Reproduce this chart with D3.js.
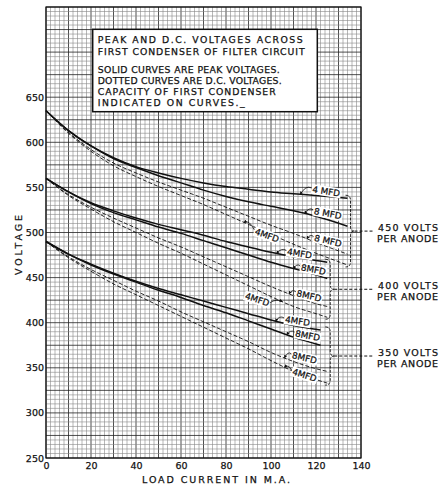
<!DOCTYPE html>
<html>
<head>
<meta charset="utf-8">
<script src="https://cdn.jsdelivr.net/npm/d3@7"></script>
<style>
  html, body { margin: 0; padding: 0; background: #fff; }
  svg { display: block; }
</style>
</head>
<body>
<div id="chart"></div>
<script>
/* Axis ticks */
const currentTicks = [0, 20, 40, 60, 80, 100, 120, 140];
const voltageTicks = [250, 300, 350, 400, 450, 500, 550, 600, 650];

/* 450 volts per anode */
const current450 = [0, 10, 20, 30, 40, 50, 60, 70, 80, 90, 100, 110, 120, 134];
const peak450_4mfd = [635, 613, 596, 583, 573, 566, 560, 555, 551, 548, 545, 543, 541, 538];
const peak450_8mfd = [635, 613, 596, 582, 572, 563, 555, 547, 540, 534, 529, 524, 518, 507];
const dc450_8mfd = [635, 611, 592, 577, 566, 556, 547, 538, 528, 518, 508, 499, 489, 476];
const dc450_4mfd = [635, 610, 590, 574, 562, 551, 541, 531, 520, 509, 498, 487, 477, 464];

/* 400 volts per anode */
const current400 = [0, 10, 20, 30, 40, 50, 60, 70, 80, 90, 100, 110, 120, 125];
const peak400_4mfd = [560, 545, 533, 524, 516, 509, 503, 497, 490, 484, 478, 473, 469, 467];
const peak400_8mfd = [560, 545, 532, 522, 514, 506, 499, 491, 483, 475, 467, 460, 453, 449];
const dc400_8mfd = [560, 542, 528, 516, 505, 494, 484, 473, 462, 451, 440, 430, 421, 418];
const dc400_4mfd = [560, 541, 526, 512, 500, 488, 477, 465, 453, 441, 429, 418, 410, 406];

/* 350 volts per anode */
const current350peak = [0, 10, 20, 30, 40, 50, 60, 70, 80, 90, 100, 110, 122];
const current350dc = [0, 10, 20, 30, 40, 50, 60, 70, 80, 90, 100, 110, 120, 125];
const peak350_4mfd = [490, 476, 465, 455, 446, 438, 431, 424, 417, 410, 403, 397, 392];
const peak350_8mfd = [490, 476, 464, 454, 445, 436, 428, 419, 411, 402, 393, 384, 375];
const dc350_8mfd = [490, 473, 459, 447, 435, 424, 412, 401, 390, 379, 367, 357, 349, 346];
const dc350_4mfd = [490, 472, 457, 443, 431, 419, 407, 395, 383, 371, 358, 346, 337, 333];

const groupNames = ['450 VOLTS', '400 VOLTS', '350 VOLTS'];

const noteLines = [
  'PEAK  AND  D.C.  VOLTAGES  ACROSS',
  'FIRST  CONDENSER  OF  FILTER  CIRCUIT',
  'SOLID  CURVES  ARE  PEAK  VOLTAGES.',
  'DOTTED  CURVES  ARE  D.C. VOLTAGES.',
  'CAPACITY  OF  FIRST  CONDENSER',
  'INDICATED  ON  CURVES._',
];

/* Curves with their label layout (tip = load current where the arrow lands) */
const curves = [
  { group: 0, xs: current450, ys: peak450_4mfd, dc: false, label: '4 MFD', tip: 113, dx: 26, dy: -3, rot: 9 },
  { group: 0, xs: current450, ys: peak450_8mfd, dc: false, label: '8 MFD', tip: 115, dx: 23, dy: 0, rot: 11 },
  { group: 0, xs: current450, ys: dc450_8mfd, dc: true, label: '8 MFD', tip: 116, dx: 21, dy: 2, rot: 13 },
  { group: 0, xs: current450, ys: dc450_4mfd, dc: true, label: '4MFD', tip: 88, dx: 23, dy: 13, rot: 20 },
  { group: 1, xs: current400, ys: peak400_4mfd, dc: false, label: '4MFD', tip: 102.5, dx: 23, dy: 0, rot: 9 },
  { group: 1, xs: current400, ys: peak400_8mfd, dc: false, label: '8MFD', tip: 110, dx: 20, dy: 1, rot: 11 },
  { group: 1, xs: current400, ys: dc400_8mfd, dc: true, label: '8MFD', tip: 108, dx: 20, dy: 2, rot: 13 },
  { group: 1, xs: current400, ys: dc400_4mfd, dc: true, label: '4MFD', tip: 105, dx: -25, dy: -2, rot: 18 },
  { group: 2, xs: current350peak, ys: peak350_4mfd, dc: false, label: '4MFD', tip: 102, dx: 22, dy: 0, rot: 9 },
  { group: 2, xs: current350peak, ys: peak350_8mfd, dc: false, label: '8MFD', tip: 107, dx: 21, dy: 1, rot: 11 },
  { group: 2, xs: current350dc, ys: dc350_8mfd, dc: true, label: '8MFD', tip: 106, dx: 20, dy: 0, rot: 13 },
  { group: 2, xs: current350dc, ys: dc350_4mfd, dc: true, label: '4MFD', tip: 106, dx: 20, dy: 8, rot: 18 },
];

const width = 440;
const height = 485;
const plot = { left: 46, right: 361, top: 7, bottom: 458 };
const font = '"DejaVu Sans", sans-serif';
const ink = '#111';

const x = d3.scaleLinear().domain([0, 140]).range([plot.left, plot.right]);
const y = d3.scaleLinear().domain([250, 750]).range([plot.bottom, plot.top]);

const svg = d3
  .select('#chart')
  .append('svg')
  .attr('width', width)
  .attr('height', height)
  .style('background', '#fff');

svg
  .append('defs')
  .append('marker')
  .attr('id', 'arrow')
  .attr('viewBox', '0 0 6 6')
  .attr('refX', 5)
  .attr('refY', 3)
  .attr('markerWidth', 4)
  .attr('markerHeight', 4)
  .attr('orient', 'auto')
  .append('path')
  .attr('d', 'M0,0 L6,3 L0,6 Z')
  .attr('fill', ink);

/* pen-lettering look: slight stroke on the glyphs */
const letter = (sel, size) =>
  sel
    .attr('font-family', font)
    .attr('font-size', size)
    .attr('fill', ink)
    .attr('stroke', ink)
    .attr('stroke-width', 0.25);

/* Graph paper */
const grid = svg.append('g').attr('class', 'grid');

grid
  .selectAll('line.v')
  .data(d3.range(0, 141, 2))
  .join('line')
  .attr('class', 'v')
  .attr('x1', (d) => x(d))
  .attr('x2', (d) => x(d))
  .attr('y1', plot.top)
  .attr('y2', plot.bottom)
  .attr('stroke', (d) => (d % 10 === 0 ? '#222' : '#888'))
  .attr('stroke-width', (d) => (d % 10 === 0 ? 0.8 : 0.6));

grid
  .selectAll('line.h')
  .data(d3.range(250, 751, 5))
  .join('line')
  .attr('class', 'h')
  .attr('x1', plot.left)
  .attr('x2', plot.right)
  .attr('y1', (d) => y(d))
  .attr('y2', (d) => y(d))
  .attr('stroke', (d) => (d % 25 === 0 ? '#222' : '#888'))
  .attr('stroke-width', (d) => (d % 25 === 0 ? 0.8 : 0.6));

svg
  .append('rect')
  .attr('x', plot.left)
  .attr('y', plot.top)
  .attr('width', plot.right - plot.left)
  .attr('height', plot.bottom - plot.top)
  .attr('fill', 'none')
  .attr('stroke', ink)
  .attr('stroke-width', 1.2);

/* Axes */
const yAxis = svg
  .append('g')
  .attr('transform', `translate(${plot.left},0)`)
  .call(d3.axisLeft(y).tickValues(voltageTicks).tickSize(0).tickPadding(2));
yAxis.select('.domain').remove();
yAxis.selectAll('text').call(letter, 9.5);

const xAxis = svg
  .append('g')
  .attr('transform', `translate(0,${plot.bottom})`)
  .call(d3.axisBottom(x).tickValues(currentTicks).tickSize(0).tickPadding(4));
xAxis.select('.domain').remove();
xAxis.selectAll('text').call(letter, 9.5);

svg
  .append('text')
  .attr('x', 216)
  .attr('y', 482.5)
  .attr('text-anchor', 'middle')
  .attr('textLength', 148)
  .attr('lengthAdjust', 'spacing')
  .call(letter, 9.5)
  .text('LOAD CURRENT IN M.A.');

svg
  .append('text')
  .attr('transform', 'translate(21.5,245) rotate(-90)')
  .attr('text-anchor', 'middle')
  .attr('textLength', 60)
  .attr('lengthAdjust', 'spacing')
  .call(letter, 9.5)
  .text('VOLTAGE');

/* Note box */
const noteWidths = [205, 207, 182, 184, 178, 147];
const noteBaselines = [42.8, 54.5, 72.8, 84, 95.2, 106.3];
svg
  .append('rect')
  .attr('x', 92.7)
  .attr('y', 29.3)
  .attr('width', 224.6)
  .attr('height', 82.4)
  .attr('fill', '#fff')
  .attr('stroke', ink)
  .attr('stroke-width', 1.5);

noteLines.forEach((line, i) => {
  svg
    .append('text')
    .attr('x', 97.7)
    .attr('y', noteBaselines[i])
    .attr('textLength', noteWidths[i])
    .attr('lengthAdjust', 'spacing')
    .call(letter, 9.3)
    .text(line);
});

/* Curves */
const line = d3
  .line()
  .x((d) => x(d[0]))
  .y((d) => y(d[1]))
  .curve(d3.curveMonotoneX);

const valueAt = (xs, ys, mA) => {
  const i = Math.min(d3.bisectRight(xs, mA) - 1, xs.length - 2);
  const t = (mA - xs[i]) / (xs[i + 1] - xs[i]);
  return ys[i] + t * (ys[i + 1] - ys[i]);
};

curves.forEach((c) => {
  svg
    .append('path')
    .datum(d3.zip(c.xs, c.ys))
    .attr('fill', 'none')
    .attr('stroke', ink)
    .attr('stroke-width', c.dc ? 0.9 : 1.5)
    .attr('stroke-dasharray', c.dc ? '4,2' : null)
    .attr('d', line);
});

/* Curve labels with arrows */
curves.forEach((c) => {
  const tx = x(c.tip);
  const ty = y(valueAt(c.xs, c.ys, c.tip));
  const lx = tx + c.dx;
  const ly = ty + c.dy;

  const g = svg.append('g').attr('transform', `translate(${lx},${ly}) rotate(${c.rot})`);
  const bg = g.append('rect').attr('fill', '#fff');
  const t = g
    .append('text')
    .attr('text-anchor', 'middle')
    .attr('dy', '0.35em')
    .call(letter, 8.8)
    .text(c.label);
  const w = t.node().getComputedTextLength();
  bg.attr('x', -w / 2 - 1).attr('y', -5).attr('width', w + 2).attr('height', 10);

  const a = (c.rot * Math.PI) / 180;
  const side = c.dx > 0 ? -1 : 1;
  const sx = lx + side * (w / 2 + 1) * Math.cos(a);
  const sy = ly + side * (w / 2 + 1) * Math.sin(a) - 1;
  svg
    .append('path')
    .attr('d', `M${sx},${sy} Q${(sx + tx) / 2},${Math.min(sy, ty) - 3} ${tx},${ty}`)
    .attr('fill', 'none')
    .attr('stroke', ink)
    .attr('stroke-width', 0.8)
    .attr('marker-end', 'url(#arrow)');
});

/* Braces and group labels */
groupNames.forEach((name, gi) => {
  const members = curves.filter((c) => c.group === gi);
  const ends = members.map((c) => [c.xs[c.xs.length - 1], c.ys[c.ys.length - 1]]);
  const bx = x(d3.max(ends, (d) => d[0])) + 3;
  const y0 = y(d3.max(ends, (d) => d[1])) - 3;
  const y1 = y(d3.min(ends, (d) => d[1])) + 2;
  const mid = (y0 + y1) / 2;

  svg
    .append('path')
    .attr(
      'd',
      `M${bx - 5},${y0} Q${bx},${y0} ${bx},${y0 + 5} L${bx},${mid - 4} Q${bx},${mid} ${bx + 4},${mid}` +
        ` Q${bx},${mid} ${bx},${mid + 4} L${bx},${y1 - 5} Q${bx},${y1} ${bx - 5},${y1}`
    )
    .attr('fill', 'none')
    .attr('stroke', ink)
    .attr('stroke-width', 0.9)
    .attr('stroke-dasharray', '3,1.2');

  svg
    .append('line')
    .attr('x1', bx + 4)
    .attr('x2', 373)
    .attr('y1', mid)
    .attr('y2', mid)
    .attr('stroke', ink)
    .attr('stroke-width', 1)
    .attr('stroke-dasharray', '3,2');

  svg
    .append('text')
    .attr('x', 378)
    .attr('y', mid - 0.5)
    .attr('textLength', 60)
    .attr('lengthAdjust', 'spacing')
    .call(letter, 9.5)
    .text(name);

  svg
    .append('text')
    .attr('x', 377)
    .attr('y', mid + 11)
    .attr('textLength', 61)
    .attr('lengthAdjust', 'spacing')
    .call(letter, 9.5)
    .text('PER ANODE');
});
</script>
</body>
</html>
